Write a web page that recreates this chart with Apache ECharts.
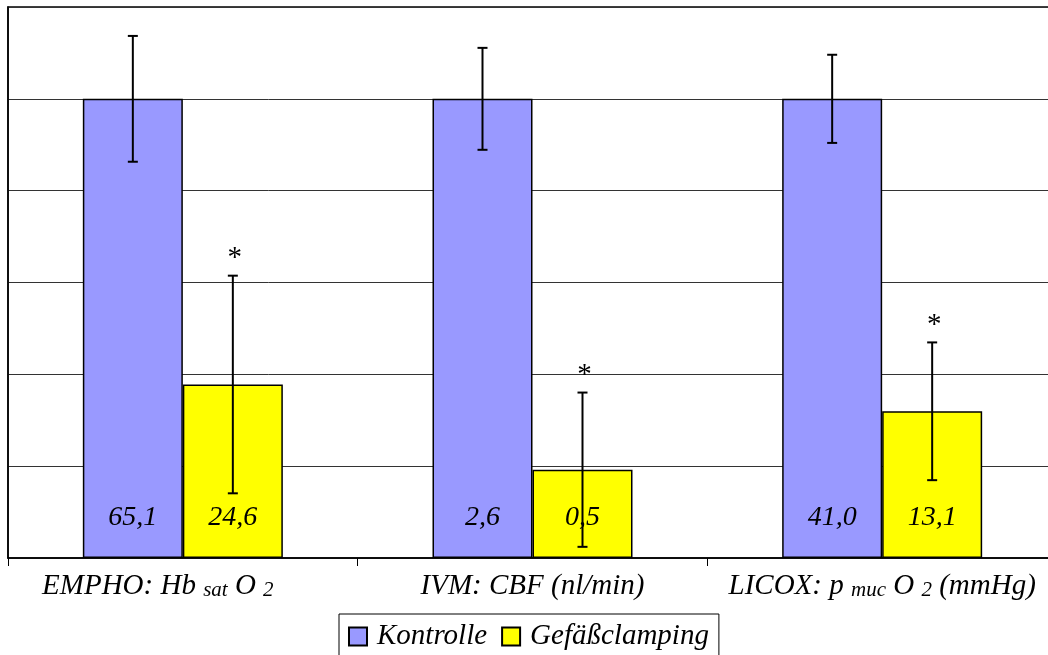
<!DOCTYPE html>
<html>
<head>
<meta charset="utf-8">
<script src="https://cdn.jsdelivr.net/npm/echarts@6/dist/echarts.min.js"></script>
<style>
  html, body { margin: 0; padding: 0; background: #fff; }
  #chart { width: 1048px; height: 655px; }
</style>
</head>
<body>
<div id="chart"></div>
<script>
// Category labels (rich-text markup for the subscripts)
const categories = [
  '{t|EMPHO: Hb }{s|sat}{t| O }{s|2}{pad|}',
  '{t|IVM: CBF (nl/min)}',
  '{t|LICOX: p }{s|muc}{t| O }{s|2}{t| (mmHg)}'
];
const seriesNames = ['Kontrolle', 'Gefäßclamping'];

// Mean values in the original units
const kontrolleRaw = [65.1, 2.6, 41.0];
const clampRaw = [24.6, 0.5, 13.1];

// Standard deviations, in percent of the control mean
const kontrolleSD = [13.7, 11.1, 9.6];
const clampSD = [23.7, 16.8, 15.0];

// Bars are shown relative to the control mean (control = 100 %)
const kontrollePct = kontrolleRaw.map(v => v / v * 100);
const clampPct = clampRaw.map((v, i) => v / kontrolleRaw[i] * 100);

const SERIF = '"Liberation Serif", "Times New Roman", serif';
const BAR_W = 100;

const fmt = v => v.toFixed(1).replace('.', ',');

function errorBars(name, pct, sd, side, withStar) {
  return {
    type: 'custom',
    name: name,
    silent: true,
    z: 10,
    encode: { x: 0, y: [1, 2] },
    data: pct.map((v, i) => [i, v - sd[i], v + sd[i]]),
    renderItem: function (params, api) {
      const i = api.value(0);
      const lo = api.coord([i, api.value(1)]);
      const hi = api.coord([i, api.value(2)]);
      const x = lo[0] + side * BAR_W / 2;
      const cap = 5;
      const st = { stroke: '#000', lineWidth: 2 };
      const children = [
        { type: 'line', shape: { x1: x, y1: hi[1], x2: x, y2: lo[1] }, style: st },
        { type: 'line', shape: { x1: x - cap, y1: hi[1], x2: x + cap, y2: hi[1] }, style: st },
        { type: 'line', shape: { x1: x - cap, y1: lo[1], x2: x + cap, y2: lo[1] }, style: st }
      ];
      if (withStar) {
        children.push({
          type: 'text',
          style: {
            text: '*', x: x + 2, y: hi[1] - 17,
            font: '29px ' + SERIF, fill: '#000',
            textAlign: 'center', textVerticalAlign: 'middle'
          }
        });
      }
      return { type: 'group', children: children };
    }
  };
}

const barLabel = (raw) => ({
  show: true,
  position: 'insideBottom',
  distance: 26,
  formatter: p => fmt(raw[p.dataIndex]),
  fontFamily: SERIF,
  fontStyle: 'italic',
  fontSize: 28,
  color: '#000'
});

const chart = echarts.init(document.getElementById('chart'), null, { renderer: 'canvas' });

chart.setOption({
  backgroundColor: '#fff',
  animation: false,
  grid: {
    left: 8, top: 7, right: -9, bottom: 97,
    outerBoundsMode: 'none', containLabel: false,
    show: true, borderColor: '#000', borderWidth: 1.5, backgroundColor: 'transparent'
  },
  legend: {
    data: seriesNames,
    left: 339, top: 614,
    padding: [8, 10, 8, 9],
    borderColor: '#000', borderWidth: 1,
    itemWidth: 18, itemHeight: 18, itemGap: 14,
    icon: 'rect',
    textStyle: { fontFamily: SERIF, fontStyle: 'italic', fontSize: 29, color: '#000', padding: [0, 0, 0, 5] }
  },
  xAxis: {
    type: 'category',
    data: categories,
    axisLine: { lineStyle: { color: '#000', width: 1.5 } },
    axisTick: { show: true, length: 8, lineStyle: { color: '#000' } },
    axisLabel: {
      margin: 7,
      interval: 0,
      rich: {
        t: { fontFamily: SERIF, fontStyle: 'italic', fontSize: 29, color: '#000', lineHeight: 36, verticalAlign: 'bottom' },
        s: { fontFamily: SERIF, fontStyle: 'italic', fontSize: 21, color: '#000', lineHeight: 14, verticalAlign: 'bottom' },
        pad: { width: 50 }
      }
    }
  },
  yAxis: {
    type: 'value',
    min: 0, max: 120, interval: 20,
    axisLabel: { show: false },
    axisTick: { show: false },
    axisLine: { show: true, lineStyle: { color: '#000', width: 1.5 } },
    splitLine: { lineStyle: { color: '#333', width: 1 } }
  },
  series: [
    {
      name: seriesNames[0], type: 'bar', data: kontrollePct,
      barWidth: BAR_W, barGap: '0%',
      itemStyle: { color: '#9999FF', borderColor: '#000', borderWidth: 1.5 },
      label: barLabel(kontrolleRaw)
    },
    {
      name: seriesNames[1], type: 'bar', data: clampPct,
      barWidth: BAR_W, barGap: '0%',
      itemStyle: { color: '#FFFF00', borderColor: '#000', borderWidth: 1.5 },
      label: barLabel(clampRaw)
    },
    errorBars('sd-k', kontrollePct, kontrolleSD, -1, false),
    errorBars('sd-c', clampPct, clampSD, 1, true)
  ]
});
</script>
</body>
</html>
